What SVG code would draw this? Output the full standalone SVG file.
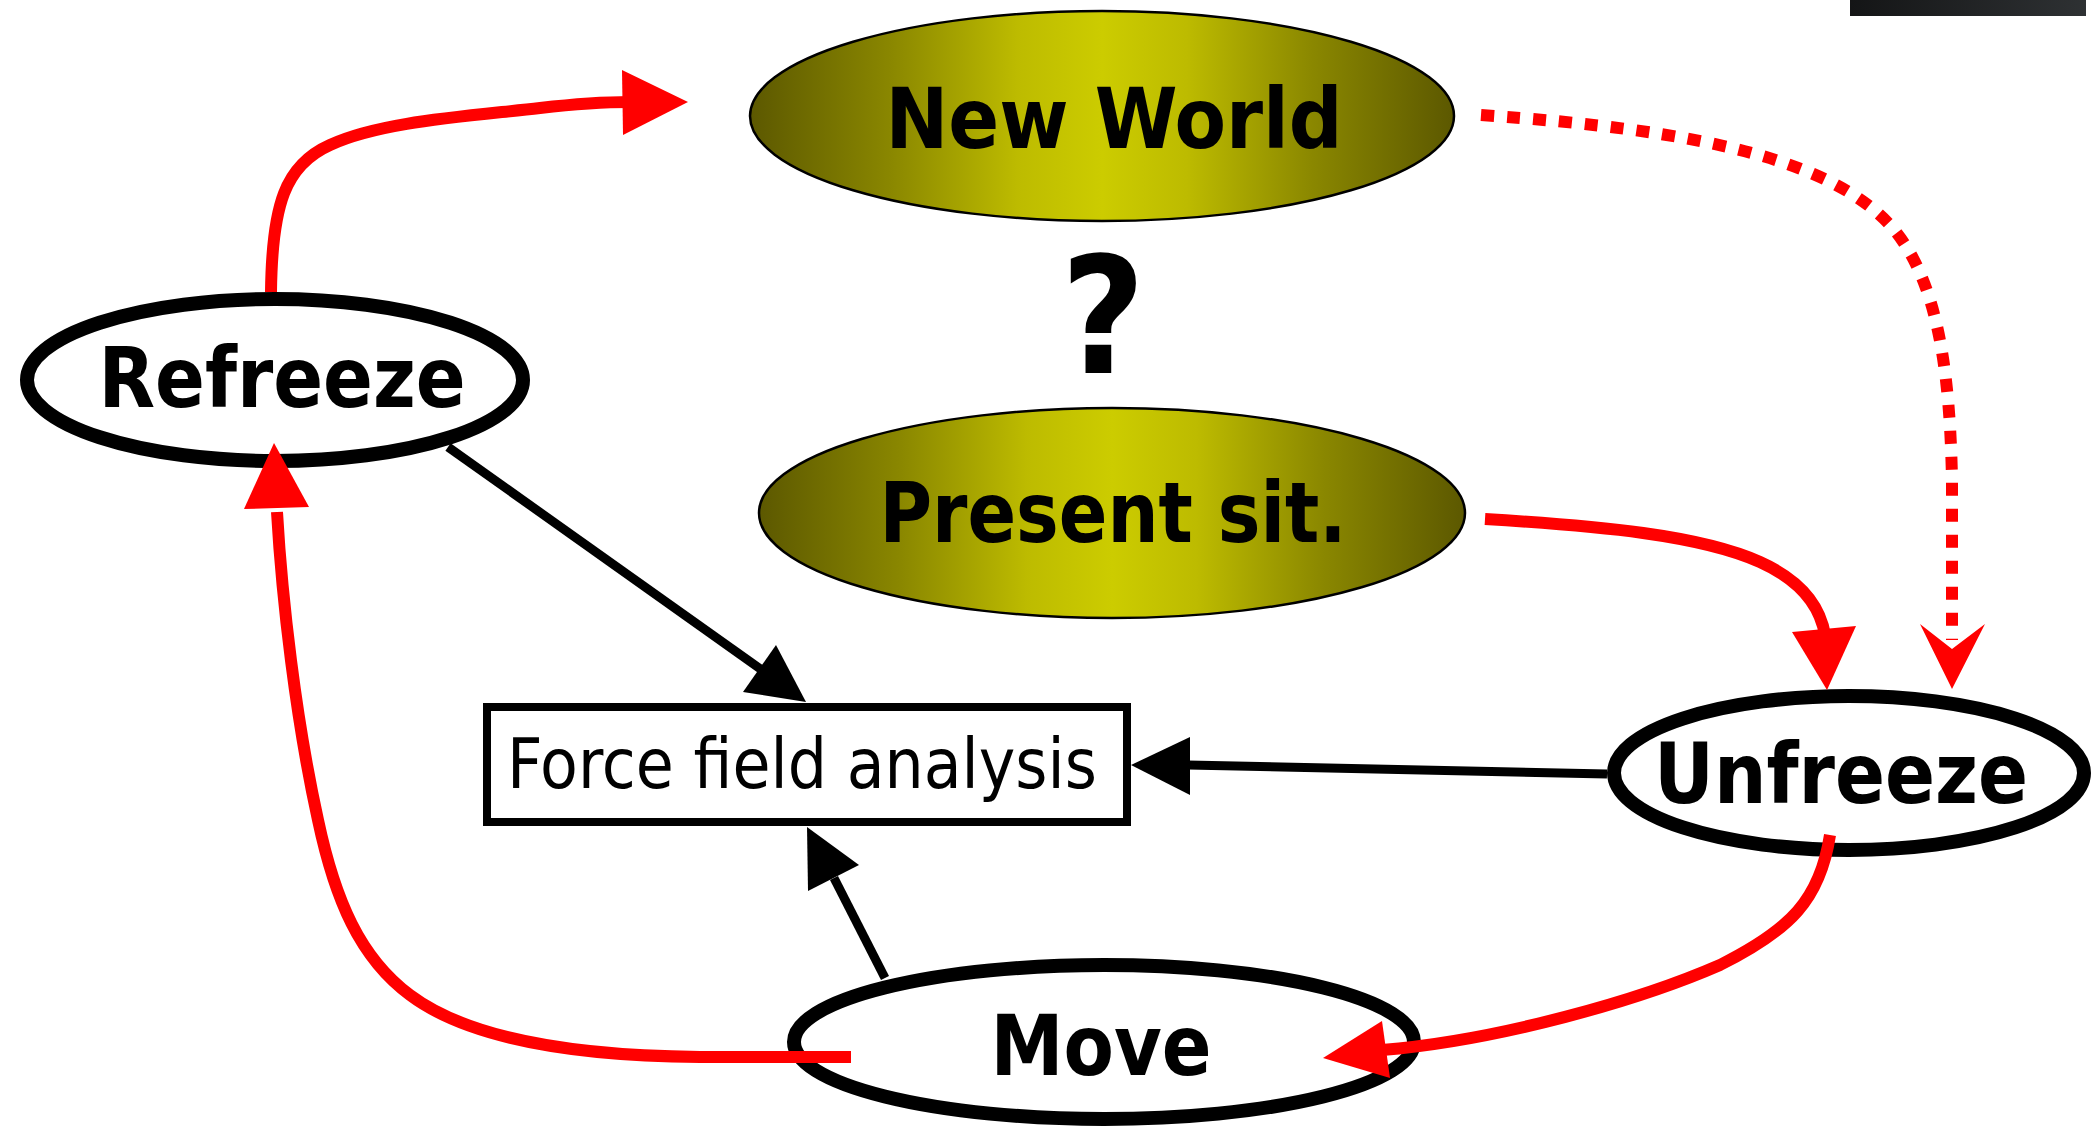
<svg xmlns="http://www.w3.org/2000/svg" width="2095" height="1130" viewBox="0 0 2095 1130">
  <defs>
    <linearGradient id="olive" x1="0" y1="0" x2="1" y2="0">
      <stop offset="0" stop-color="#5c5800"/>
      <stop offset="0.2" stop-color="#8a8700"/>
      <stop offset="0.38" stop-color="#bdbb00"/>
      <stop offset="0.5" stop-color="#cccc00"/>
      <stop offset="0.62" stop-color="#bdbb00"/>
      <stop offset="0.8" stop-color="#8a8700"/>
      <stop offset="1" stop-color="#5c5800"/>
    </linearGradient>
    <linearGradient id="bar" x1="0" y1="0" x2="1" y2="0">
      <stop offset="0" stop-color="#141516"/>
      <stop offset="1" stop-color="#2e3133"/>
    </linearGradient>
  </defs>
  <style>
    .state { fill: url(#olive); stroke: #000; stroke-width: 2.5; }
    .phase { fill: #fff; stroke: #000; stroke-width: 14; }
    .big { font-family: "DejaVu Sans", "Liberation Sans", sans-serif; font-weight: bold; font-stretch: condensed; font-size: 84px; fill: #000; text-anchor: middle; }
    .plain { font-family: "DejaVu Sans", "Liberation Sans", sans-serif; font-stretch: condensed; font-size: 70px; fill: #000; text-anchor: middle; }
    .red { fill: none; stroke: #ff0000; stroke-width: 12; }
    .dots { fill: none; stroke: #ff0000; stroke-width: 12; stroke-dasharray: 13 13; }
    .blk { fill: none; stroke: #000; stroke-width: 9; }
    .redhead { fill: #ff0000; }
    .blkhead { fill: #000; }
  </style>

  <rect width="2095" height="1130" fill="#fff"/>
  <!-- dark strip in the top right corner -->
  <rect x="1850" y="0" width="236" height="16" fill="url(#bar)"/>

  <g id="new-world">
    <ellipse class="state" cx="1102" cy="116" rx="352" ry="105"/>
    <text class="big" x="1114" y="148" textLength="457" lengthAdjust="spacingAndGlyphs">New World</text>
  </g>

  <g id="question">
    <text class="big" x="1103" y="373" style="font-size:162px">?</text>
  </g>

  <g id="present-situation">
    <ellipse class="state" cx="1112" cy="513" rx="353" ry="105"/>
    <text class="big" x="1113" y="542" textLength="467" lengthAdjust="spacingAndGlyphs">Present sit.</text>
  </g>

  <g id="refreeze">
    <ellipse class="phase" cx="275" cy="380" rx="248" ry="81"/>
    <text class="big" x="282" y="407" textLength="367" lengthAdjust="spacingAndGlyphs">Refreeze</text>
  </g>

  <g id="unfreeze">
    <ellipse class="phase" cx="1849" cy="773" rx="235" ry="77"/>
    <text class="big" x="1841" y="803" textLength="374" lengthAdjust="spacingAndGlyphs">Unfreeze</text>
  </g>

  <g id="move">
    <ellipse class="phase" cx="1104" cy="1042" rx="310" ry="77"/>
    <text class="big" x="1101" y="1075" textLength="221" lengthAdjust="spacingAndGlyphs">Move</text>
  </g>

  <g id="force-field-analysis">
    <rect x="487" y="707" width="640" height="115" fill="#fff" stroke="#000" stroke-width="8"/>
    <text class="plain" x="802" y="788" textLength="590" lengthAdjust="spacingAndGlyphs">Force field analysis</text>
  </g>

  <g id="connectors">
    <!-- Refreeze -> New World -->
    <path class="red" d="M271,292 C272,205 285,165 330,145 C380,122 460,117 540,108 C575,104 600,102 630,102"/>
    <polygon class="redhead" points="622,70 688,102 623,135"/>

    <!-- New World -> Unfreeze (dotted) -->
    <path class="dots" d="M1481,115 C1700,130 1830,160 1890,225 C1940,280 1950,380 1952,480 L1952,640"/>
    <polygon class="redhead" points="1920,624 1952,649 1985,624 1952,689"/>

    <!-- Present sit. -> Unfreeze -->
    <path class="red" d="M1485,519 C1600,526 1700,535 1760,562 C1800,580 1820,605 1825,635"/>
    <polygon class="redhead" points="1792,632 1856,626 1827,690"/>

    <!-- Unfreeze -> Move -->
    <path class="red" d="M1830,835 C1820,900 1790,930 1720,965 C1640,1000 1500,1040 1382,1050"/>
    <polygon class="redhead" points="1382,1021 1390,1078 1323,1058"/>

    <!-- Move -> Refreeze -->
    <path class="red" d="M851,1057 L700,1057 C580,1056 470,1040 410,995 C360,958 335,900 318,820 C296,720 282,600 277,512"/>
    <polygon class="redhead" points="244,509 309,507 274,443"/>

    <!-- Refreeze -> Force field analysis -->
    <path class="blk" d="M448,447 L762,670"/>
    <polygon class="blkhead" points="776,645 806,702 743,692"/>

    <!-- Unfreeze -> Force field analysis -->
    <path class="blk" d="M1607,774 L1188,765"/>
    <polygon class="blkhead" points="1190,737 1131,765 1190,795"/>

    <!-- Move -> Force field analysis -->
    <path class="blk" d="M885,978 L834,878"/>
    <polygon class="blkhead" points="807,827 808,891 859,865"/>
  </g>
</svg>
